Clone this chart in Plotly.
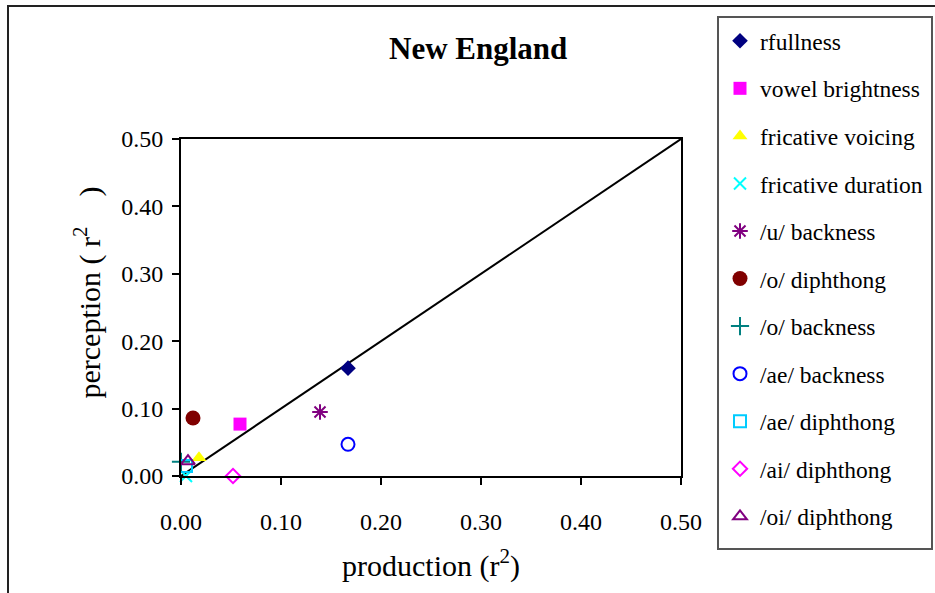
import plotly.graph_objects as go

names = ["rfullness", "vowel brightness", "fricative voicing", "fricative duration",
         "/u/ backness", "/o/ diphthong", "/o/ backness", "/ae/ backness",
         "/ae/ diphthong", "/ai/ diphthong", "/oi/ diphthong"]
production = [0.167, 0.059, 0.018, 0.005, 0.139, 0.012, 0.000, 0.167, 0.005, 0.052, 0.007]
perception = [0.160, 0.077, 0.027, 0.000, 0.095, 0.086, 0.021, 0.047, 0.015, 0.000, 0.022]
symbols = ["diamond", "square", "triangle-up", "x-thin-open", "asterisk-open", "circle",
           "cross-thin-open", "circle-open", "square-open", "diamond-open", "triangle-up-open"]
colors = ["#000080", "#FF00FF", "#FFFF00", "#00FFFF", "#800080", "#800000",
          "#008080", "#0000FF", "#00CCFF", "#FF00FF", "#800080"]
sizes = [12, 13, 13, 12, 13, 15, 13, 13, 12, 11, 12]
diag_x = [0.0, 0.5]
diag_y = [0.0, 0.5]
ticks = [0.0, 0.1, 0.2, 0.3, 0.4, 0.5]
tick_text = ["0.00", "0.10", "0.20", "0.30", "0.40", "0.50"]

FONT = "Liberation Serif, Times New Roman, serif"

fig = go.Figure()
fig.add_trace(go.Scatter(x=diag_x, y=diag_y, mode="lines", line=dict(color="black", width=2),
                         showlegend=False, hoverinfo="skip"))
for i, n in enumerate(names):
    sym = symbols[i]
    if sym.endswith("open"):
        marker = dict(symbol=sym, size=sizes[i], color=colors[i],
                      line=dict(color=colors[i], width=2))
    else:
        marker = dict(symbol=sym, size=sizes[i], color=colors[i], line=dict(width=0))
    fig.add_trace(go.Scatter(x=[production[i]], y=[perception[i]], mode="markers",
                             name=n, marker=marker, legendgroup=f"g{i}", cliponaxis=False))

axis_common = dict(range=[0, 0.5], tickvals=ticks, ticktext=tick_text, showgrid=False,
                   zeroline=False, showline=True, linecolor="black", linewidth=2, mirror=True,
                   ticks="outside", ticklen=7, tickwidth=2, tickcolor="black",
                   tickfont=dict(family=FONT, size=24, color="black"))

fig.update_layout(
    width=935, height=593,
    margin=dict(l=181, r=254, t=139, b=117, autoexpand=False),
    paper_bgcolor="white", plot_bgcolor="white",
    xaxis=dict(**axis_common, ticklabelstandoff=16,
               title=dict(text="production (r<sup>2</sup>)",
                          font=dict(family=FONT, size=30, color="black"), standoff=21)),
    yaxis=dict(**axis_common, ticklabelstandoff=4,
               title=dict(text="&nbsp;&nbsp;&nbsp;&nbsp;perception ( r<sup>2</sup>&nbsp;&nbsp;&nbsp;&nbsp;)",
                          font=dict(family=FONT, size=30, color="black"), standoff=12)),
    legend=dict(xref="container", yref="container", x=720 / 935, y=1 - 19 / 593,
                xanchor="left", yanchor="top",
                borderwidth=0, bgcolor="rgba(0,0,0,0)",
                font=dict(family=FONT, size=23.5, color="black"),
                tracegroupgap=14, itemsizing="trace", maxheight=600,
                itemwidth=30),
    annotations=[dict(text="<b>New England</b>", x=0.594, y=1.270, xref="paper", yref="paper",
                      xanchor="center", yanchor="middle",
                      showarrow=False, font=dict(family=FONT, size=31, color="black"))],
    shapes=[
        dict(type="rect", xref="paper", yref="paper", x0=-0.346, y0=-0.40, x1=1.55, y1=1.395,
             line=dict(color="#222222", width=2), layer="below"),
        dict(type="rect", xref="paper", yref="paper", x0=(718 - 181) / 500, x1=(932 - 181) / 500,
             y0=(476 - 549) / 337, y1=(476 - 17) / 337,
             line=dict(color="#555555", width=2), fillcolor="white", layer="below"),
    ],
)

fig.write_html("out.html")
